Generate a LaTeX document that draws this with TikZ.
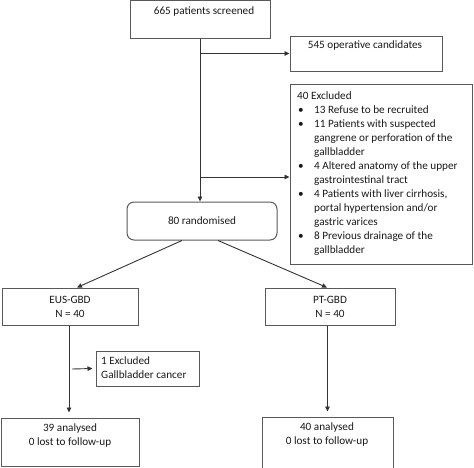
\documentclass[tikz,border=0pt]{standalone}
\usepackage{fontspec}
\setmainfont{Carlito}
\usetikzlibrary{arrows.meta}
\begin{document}
\begin{tikzpicture}[x=1pt,y=-1pt,
  box/.style={draw=black!65, line width=1pt, rectangle, inner sep=0pt},
  txt/.style={font=\fontsize{11.2}{14}\selectfont, inner sep=0pt, text=black!90},
  arr/.style={draw=black!80, line width=0.9pt, -{Triangle[length=5pt,width=4.5pt]}},
  ln/.style={draw=black!80, line width=0.9pt}]
\useasboundingbox (0,0) rectangle (474,467);
% boxes
\node[box, minimum width=140pt, minimum height=37.5pt] (scr) at (200,19.25) {};
\node[box, minimum width=152pt, minimum height=35pt] (op) at (366,53.5) {};
\node[box, minimum width=182pt, minimum height=180pt] (exc) at (381,174) {};
\node[box, rounded corners=7pt, minimum width=150pt, minimum height=38pt, txt] (rand) at (202,221) {80 randomised};
\node[box, minimum width=136pt, minimum height=37pt, txt, align=center] (eus) at (70,306.5) {EUS-GBD\\N = 40};
\node[box, minimum width=130pt, minimum height=37pt, txt, align=center] (pt) at (330,306.5) {PT-GBD\\N = 40};
\node[box, minimum width=103pt, minimum height=35pt] (exa) at (147.5,368.5) {};
\node[box, minimum width=138pt, minimum height=48pt] (ana) at (70,442) {};
\node[box, minimum width=131pt, minimum height=51pt] (anb) at (327.5,442.5) {};
% texts
\node[txt] (scrt) at (204,12) {665 patients screened};
\node[txt] (opt) at (365,46) {545 operative candidates};
\node[txt, anchor=north west] (exct) at (297,89) {%
\begin{tabular}{@{}p{17pt}@{}l@{}}
\multicolumn{2}{@{}l@{}}{40 Excluded}\\
\hspace{1pt}\textbullet & 13 Refuse to be recruited\\
\hspace{1pt}\textbullet & 11 Patients with suspected\\
 & gangrene or perforation of the\\
 & gallbladder\\
\hspace{1pt}\textbullet & 4 Altered anatomy of the upper\\
 & gastrointestinal tract\\
\hspace{1pt}\textbullet & 4 Patients with liver cirrhosis,\\
 & portal hypertension and/or\\
 & gastric varices\\
\hspace{1pt}\textbullet & 8 Previous drainage of the\\
 & gallbladder
\end{tabular}};
\node[txt, anchor=west, align=left] (exat) at (101,368) {1 Excluded\\Gallbladder cancer};
\node[txt, align=center] (anat) at (70,436) {39 analysed\\0 lost to follow-up};
\node[txt, align=center] (anbt) at (327,434.5) {40 analysed\\0 lost to follow-up};
% connectors
\coordinate (c1) at (200,53.5);
\coordinate (c2) at (200,177);
\coordinate (c3) at (72,369);
\draw[arr] (scr.south) -- (scr.south |- rand.north);
\draw[arr] (c1) -- (op.west);
\draw[arr] (c2) -- (c2 -| exc.west);
\draw[arr] ([xshift=-20pt]rand.south) -- ([xshift=7pt]eus.north);
\draw[arr] ([xshift=16pt]rand.south) -- ([xshift=-3pt]pt.north);
\draw[arr, shorten >=5pt] ([xshift=-1pt]eus.south) -- ([xshift=-1pt]ana.north);
\draw[arr] (c3) -- ([xshift=-3pt]exa.west);
\draw[arr, shorten >=5pt] (anb.north |- pt.south) -- (anb.north);
\end{tikzpicture}
\end{document}
